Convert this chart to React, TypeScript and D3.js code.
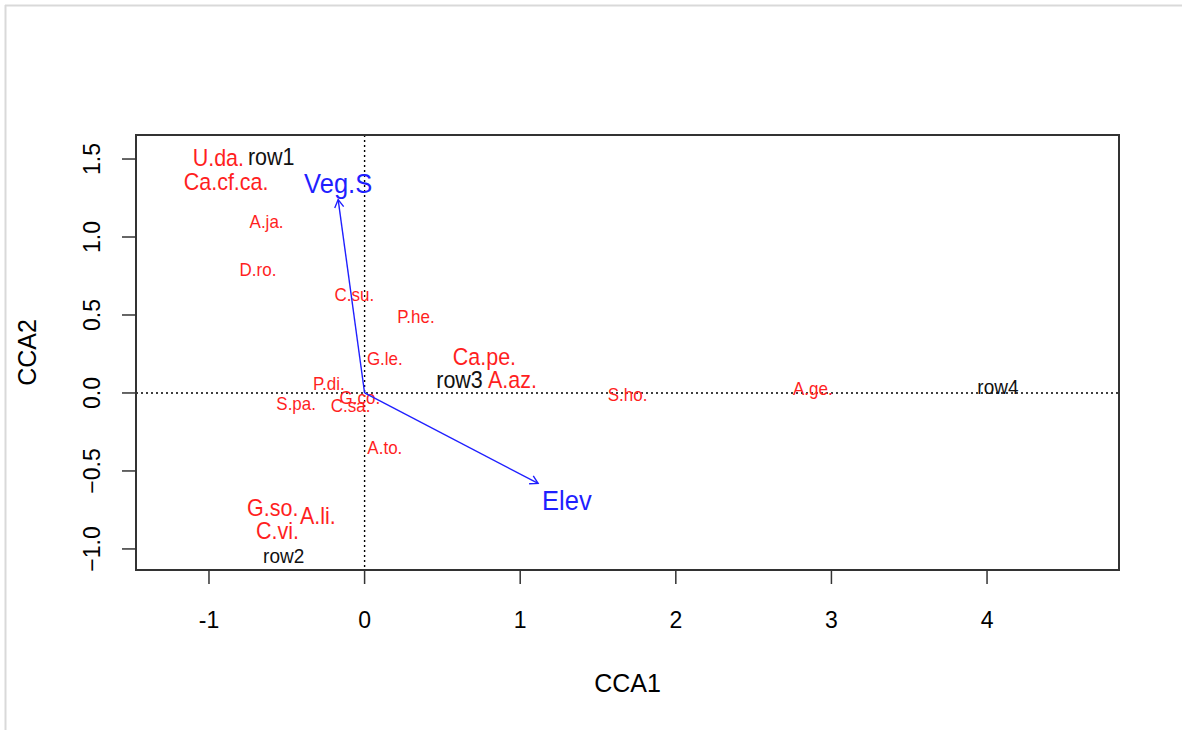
import React from "react";
import * as d3 from "d3";

const xTicks = [-1, 0, 1, 2, 3, 4];
const yTicks = [-1.0, -0.5, 0.0, 0.5, 1.0, 1.5];

// species scores (red)
const speciesNames = ["U.da.", "Ca.cf.ca.", "A.ja.", "D.ro.", "C.su.", "P.he.", "G.le.", "Ca.pe.", "A.az.", "P.di.", "S.pa.", "G.co.", "C.sa.", "A.to.", "S.ho.", "A.ge.", "G.so.", "A.li.", "C.vi."];
const speciesX = [-0.94, -0.89, -0.63, -0.685, -0.066, 0.33, 0.13, 0.77, 0.95, -0.23, -0.44, -0.03, -0.09, 0.13, 1.69, 2.88, -0.59, -0.30, -0.56];
const speciesY = [1.506, 1.35, 1.10, 0.79, 0.63, 0.49, 0.22, 0.23, 0.08, 0.06, -0.07, -0.03, -0.08, -0.35, -0.01, 0.03, -0.74, -0.79, -0.885];
const speciesBig = [1, 1, 0, 0, 0, 0, 0, 1, 1, 0, 0, 0, 0, 0, 0, 0, 1, 1, 1];

// site scores (black)
const siteNames = ["row1", "row2", "row3", "row4"];
const siteX = [-0.60, -0.52, 0.61, 4.07];
const siteY = [1.51, -1.04, 0.08, 0.04];
const siteBig = [1, 0, 1, 0];

// environmental biplot arrows (blue)
const envNames = ["Veg.S", "Elev"];
const envX = [-0.17, 1.115];
const envY = [1.24, -0.58];
const envLabelX = [-0.17, 1.30];
const envLabelY = [1.34, -0.69];

export default function App() {
  const left = 136, right = 1119, top = 135, bottom = 570;
  const x = d3.scaleLinear().domain([-1.469, 4.848]).range([left, right]);
  const y = d3.scaleLinear().domain([1.654, -1.135]).range([top, bottom]);
  const font = "Liberation Sans, Arial, sans-serif";
  const red = "#ff1f1f";
  const blue = "#1f1fff";
  const sy = 1.1;

  const arrowHead = (x0: number, y0: number, x1: number, y1: number) => {
    const ang = Math.atan2(y1 - y0, x1 - x0);
    const len = 9;
    const a = Math.PI / 6;
    const p1 = [x1 - len * Math.cos(ang - a), y1 - len * Math.sin(ang - a)];
    const p2 = [x1 - len * Math.cos(ang + a), y1 - len * Math.sin(ang + a)];
    return `M${p1[0]},${p1[1]}L${x1},${y1}L${p2[0]},${p2[1]}`;
  };

  const label = (key: string, px: number, py: number, txt: string, fill: string, size: number) => (
    <text key={key} transform={`translate(${px},${py}) scale(1,${sy})`} textAnchor="middle" dominantBaseline="central"
      fill={fill} fontSize={size}>{txt}</text>
  );

  return (
    <div style={{ position: "absolute", left: 0, top: 0 }}>
      <svg width={1182} height={730} style={{ display: "block", fontFamily: font }}>
        <rect x={0} y={0} width={1182} height={730} fill="#fff" />
        <line x1={5} y1={5.5} x2={1182} y2={5.5} stroke="#d9d9d9" strokeWidth={2} />
        <line x1={5.5} y1={5} x2={5.5} y2={730} stroke="#d9d9d9" strokeWidth={2} />

        {/* dotted zero lines */}
        <line x1={x(0)} x2={x(0)} y1={top} y2={bottom} stroke="#000" strokeWidth={1.4} strokeDasharray="2,3" />
        <line x1={left} x2={right} y1={y(0)} y2={y(0)} stroke="#000" strokeWidth={1.4} strokeDasharray="2,3" />

        {/* species */}
        {speciesNames.map((n, i) => label(n, x(speciesX[i]), y(speciesY[i]), n, red, speciesBig[i] ? 21.5 : 17))}
        {/* sites */}
        {siteNames.map((n, i) => label(n, x(siteX[i]), y(siteY[i]), n, "#111", siteBig[i] ? 21.5 : 19))}
        {/* arrows */}
        {envNames.map((n, i) => (
          <g key={n}>
            <line x1={x(0)} y1={y(0)} x2={x(envX[i])} y2={y(envY[i])} stroke={blue} strokeWidth={1.4} />
            <path d={arrowHead(x(0), y(0), x(envX[i]), y(envY[i]))} fill="none" stroke={blue} strokeWidth={1.4} />
            {label(n + "-l", x(envLabelX[i]), y(envLabelY[i]), n, blue, 25.5)}
          </g>
        ))}

        {/* box */}
        <rect x={left} y={top} width={right - left} height={bottom - top} fill="none" stroke="#333" strokeWidth={2} />

        {/* x axis */}
        <line x1={x(-1)} x2={x(4)} y1={bottom} y2={bottom} stroke="#333" strokeWidth={1.5} />
        {xTicks.map((t) => (
          <g key={t}>
            <line x1={x(t)} x2={x(t)} y1={bottom} y2={bottom + 14} stroke="#333" strokeWidth={1.5} />
            <text x={x(t)} y={bottom + 58} textAnchor="middle" fontSize={23} fill="#000">{t}</text>
          </g>
        ))}
        {/* y axis */}
        {yTicks.map((t) => (
          <g key={t}>
            <line x1={left - 14} x2={left} y1={y(t)} y2={y(t)} stroke="#333" strokeWidth={1.5} />
            <text transform={`translate(${left - 36},${y(t)}) rotate(-90)`} textAnchor="middle" fontSize={23} fill="#000">
              {d3.format(".1f")(t)}
            </text>
          </g>
        ))}

        <text x={(left + right) / 2} y={692} textAnchor="middle" fontSize={25} fill="#000">CCA1</text>
        <text transform={`translate(36,${(top + bottom) / 2}) rotate(-90)`} textAnchor="middle" fontSize={25} fill="#000">CCA2</text>
      </svg>
    </div>
  );
}
